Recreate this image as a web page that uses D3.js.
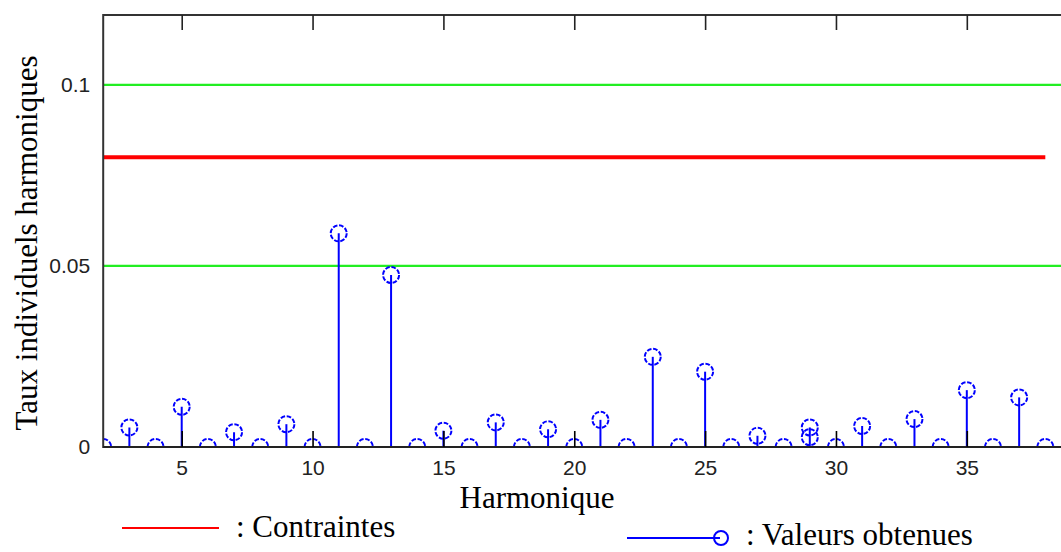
<!DOCTYPE html>
<html>
<head>
<meta charset="utf-8">
<script src="https://cdn.jsdelivr.net/npm/d3@7"></script>
<style>
  html, body { margin: 0; padding: 0; background: #ffffff; }
  svg { display: block; }
</style>
</head>
<body>
<svg id="chart" width="1061" height="552"></svg>
<script>
// ---- data ----
const harmonics = [2,3,4,5,6,7,8,9,10,11,12,13,14,15,16,17,18,19,20,21,22,23,24,25,26,27,28,29,30,31,32,33,34,35,36,37,38];
const values    = [0,0.0054,0,0.0111,0,0.0041,0,0.0063,0,0.0590,0,0.0475,0,0.0045,0,0.0068,0,0.0049,0,0.0075,0,0.0249,0,0.0208,0,0.0031,0,0.0054,0,0.0058,0,0.0077,0,0.0157,0,0.0137,0];
const extraHarmonics = [29];
const extraValues    = [0.0027];
const constraintValue = 0.08;
const constraintRange = [2, 38];
const gridValues = [0.05, 0.1];
const xTickValues = [5,10,15,20,25,30,35];
const yTickValues = [0, 0.05, 0.1];
const yTickLabels = ["0", "0.05", "0.1"];
const xTitle = "Harmonique";
const yTitle = "Taux individuels harmoniques";
const legendConstraint = ": Contraintes";
const legendValues = ": Valeurs obtenues";

// ---- layout ----
(function () {
const svg = d3.select("#chart");
const pLeft = 103.2, pTop = 15, pBottom = 447, pRight = 1070;
const pxPerUnit = 26.17;
const x = d3.scaleLinear().domain([2, 39]).range([pLeft, pLeft + 37 * pxPerUnit]);
const y = d3.scaleLinear().domain([0, 0.1193]).range([pBottom, pTop]);

svg.append("defs").append("clipPath").attr("id", "plotclip")
  .append("rect").attr("x", pLeft).attr("y", pTop).attr("width", pRight - pLeft).attr("height", pBottom - pTop);

const plot = svg.append("g").attr("clip-path", "url(#plotclip)");

// green grid lines
plot.selectAll("line.grid").data(gridValues).enter().append("line")
  .attr("class", "grid")
  .attr("x1", pLeft).attr("x2", pRight)
  .attr("y1", d => y(d)).attr("y2", d => y(d))
  .attr("stroke", "#22ee22").attr("stroke-width", 2.2);

// red constraint line
plot.append("line")
  .attr("x1", x(constraintRange[0])).attr("x2", x(constraintRange[1]))
  .attr("y1", y(constraintValue)).attr("y2", y(constraintValue))
  .attr("stroke", "#ff0000").attr("stroke-width", 4);

const pts = harmonics.map((h, i) => ({h, v: values[i]}));
const extra = extraHarmonics.map((h, i) => ({h, v: extraValues[i]}));

// stems
plot.selectAll("line.stem").data(pts.filter(d => d.v > 0)).enter().append("line")
  .attr("class", "stem")
  .attr("x1", d => x(d.h)).attr("x2", d => x(d.h))
  .attr("y1", y(0)).attr("y2", d => y(d.v))
  .attr("stroke", "#0000ff").attr("stroke-width", 2);

// circles
plot.selectAll("circle.pt").data(pts.concat(extra)).enter().append("circle")
  .attr("class", "pt")
  .attr("cx", d => x(d.h)).attr("cy", d => y(d.v))
  .attr("r", 8)
  .attr("fill", "none")
  .attr("stroke", "#0000ff").attr("stroke-width", 2)
  .attr("stroke-dasharray", "4.6 1.7");

// frame: top and left lines
svg.append("line").attr("x1", pLeft).attr("x2", pRight).attr("y1", pTop).attr("y2", pTop)
  .attr("stroke", "#333").attr("stroke-width", 2);
svg.append("line").attr("x1", pLeft).attr("x2", pLeft).attr("y1", pTop - 1).attr("y2", pBottom + 1)
  .attr("stroke", "#333").attr("stroke-width", 2);

// bottom axis via d3
const xAxis = d3.axisBottom(x).tickValues(xTickValues).tickSize(-16).tickPadding(28).tickFormat(d3.format("d"));
const gx = svg.append("g").attr("transform", `translate(0,${pBottom})`).call(xAxis);
gx.select(".domain").attr("d", `M${pLeft},0H${pRight}`).attr("stroke", "#222").attr("stroke-width", 2);
gx.selectAll(".tick line").attr("stroke", "#000").attr("stroke-width", 1.6);
gx.selectAll(".tick text").attr("font-family", "Liberation Sans, Arial, sans-serif")
  .attr("font-size", 21).attr("fill", "#222").attr("dy", 0).attr("y", 28);

// top ticks
const xTop = d3.axisTop(x).tickValues(xTickValues).tickSize(-15).tickFormat("");
const gt = svg.append("g").attr("transform", `translate(0,${pTop})`).call(xTop);
gt.select(".domain").remove();
gt.selectAll(".tick line").attr("stroke", "#222").attr("stroke-width", 1.6);

// left labels via d3 axis
const yAxis = d3.axisLeft(y).tickValues(yTickValues).tickSize(0).tickPadding(13)
  .tickFormat((d, i) => yTickLabels[i]);
const gy = svg.append("g").attr("transform", `translate(${pLeft},0)`).call(yAxis);
gy.select(".domain").remove();
gy.selectAll(".tick text").attr("font-family", "Liberation Sans, Arial, sans-serif")
  .attr("font-size", 21).attr("fill", "#222");

// titles
svg.append("text").attr("x", 537).attr("y", 508).attr("text-anchor", "middle")
  .attr("font-family", "Liberation Serif, Times New Roman, serif").attr("font-size", 31)
  .attr("fill", "#000").text(xTitle);
svg.append("text").attr("transform", "translate(37,243) rotate(-90)").attr("text-anchor", "middle")
  .attr("font-family", "Liberation Serif, Times New Roman, serif").attr("font-size", 31)
  .attr("fill", "#000").text(yTitle);

// legend
svg.append("line").attr("x1", 122).attr("x2", 219).attr("y1", 528).attr("y2", 528)
  .attr("stroke", "#ff0000").attr("stroke-width", 2);
svg.append("text").attr("x", 236).attr("y", 537)
  .attr("font-family", "Liberation Serif, Times New Roman, serif").attr("font-size", 31)
  .attr("fill", "#000").text(legendConstraint);
svg.append("line").attr("x1", 627).attr("x2", 720).attr("y1", 538).attr("y2", 538)
  .attr("stroke", "#0000ff").attr("stroke-width", 2);
svg.append("circle").attr("cx", 721).attr("cy", 538).attr("r", 7)
  .attr("fill", "none").attr("stroke", "#0000ff").attr("stroke-width", 2);
svg.append("text").attr("x", 746).attr("y", 545)
  .attr("font-family", "Liberation Serif, Times New Roman, serif").attr("font-size", 31)
  .attr("fill", "#000").text(legendValues);
})();
</script>
</body>
</html>
